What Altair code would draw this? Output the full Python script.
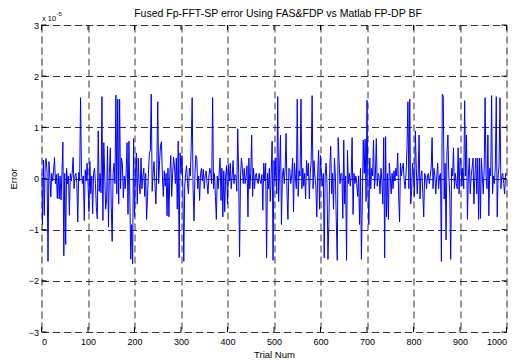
import altair as alt
import pandas as pd

# Error values (units of 1e-5), sampled every 2 trials from 0 to 1000
error_vals = [
    0.1, -0.9, 0.36, -0.72, 0.3, 0.39, 0.1, -1.62, 0.33, 0.05,
    -0.36, 0.1, -0.05, 0.15, 0.41, -0.1, 0.08, -0.39, 0.1, -0.4,
    0.05, -0.42, 0.12, 0.71, -1.51, 0.1, -1.29, 0.2, -0.1, 0.05,
    -0.72, 0.1, -0.05, 0.1, 0.41, -0.2, 0.05, 0.1, -0.1, -0.85,
    0.12, -0.05, 1.58, 0.1, -0.1, 0.05, -0.82, 0.17, -0.05, 0.3,
    -0.1, -0.65, 0.33, -0.3, 0.05, -0.69, 0.1, 0.2, -0.1, -0.57,
    -0.79, 0.93, -0.25, 0.1, -0.28, 1.6, -0.82, 0.7, 0.05, -0.6,
    -0.42, 0.63, -0.95, 0.1, 0.6, -0.55, -1.23, 0.1, 0.3, -0.1,
    1.63, -0.3, 1.55, -0.5, 1.55, -0.2, 0.4, 0.28, -0.38, 0.05,
    -0.2, 0.1, 0.7, -0.7, 0.73, -0.4, -1.58, -0.9, -1.67, 0.78,
    -0.75, 0.1, 0.5, -0.5, 0.4, -0.1, -0.3, 0.4, -0.2, 0.05,
    0.2, -0.35, 0.1, -0.8, -0.35, 0.1, 0.5, 0.55, 1.65, -0.25,
    0.1, 0.33, -0.1, -0.5, 0.22, 1.5, -0.1, 0.35, 0.65, 0.72,
    0.05, -0.35, 0.15, -0.15, 0.1, -0.73, 0.2, -0.75, 0.1, 0.45,
    -0.35, 0.1, 0.42, 0.25, -0.1, 0.4, -0.6, 0.73, -1.55, 0.5,
    0.1, 0.45, -0.2, -1.62, -0.15, 0.1, 0.25, -0.1, -0.3, 0.2,
    0.05, 0.63, 1.58, -0.2, -0.83, 0.1, 0.45, 0.4, -0.2, 0.05,
    -0.43, 0.1, 0.2, -0.05, 0.18, -0.2, 0.05, 0.15, -0.1, -0.3,
    0.05, 0.2, 0.1, -0.1, 1.58, -0.2, 0.1, -0.35, -0.8, 0.05,
    -0.2, 0.1, 0.4, -0.43, 0.2, -0.75, 0.15, -0.65, 0.05, 0.25,
    -0.5, 0.27, -0.05, 0.3, -0.2, 0.05, 0.35, -0.1, 0.08, 0.05,
    -0.25, 0.97, 0.1, -1.53, 0.05, 0.4, 0.2, -0.1, 0.2, -0.1,
    0.05, 0.25, -0.75, 0.4, -0.2, 0.1, 0.85, -0.35, 0.2, -0.2,
    0.05, 0.1, -0.05, -0.1, 0.1, -0.05, -0.1, 0.08, -0.62, 0.3,
    -0.05, 0.3, -1.55, 0.1, -0.2, 0.2, -0.45, 0.1, 0.73, -1.6,
    0.35, -0.05, 0.4, -0.3, 1.6, -0.45, 0.2, 0.85, -0.9, 0.05,
    0.2, -0.1, 0.2, 0.88, -0.3, -0.8, 0.2, 0.18, -0.1, 0.05,
    0.4, -0.65, 0.3, 0.05, -0.2, 1.55, -0.35, 0.15, 0.05, 1.55,
    -0.2, 0.2, -0.15, 0.1, -0.4, 0.35, 0.05, 0.3, -0.4, 0.1,
    0.35, 1.62, -0.2, 0.35, 0.05, -0.15, -0.75, 0.1, 0.55, -0.6,
    0.45, 0.05, -0.15, 0.1, -1.55, 0.05, 0.3, -0.1, -1.58, -0.9,
    0.2, 0.63, -0.3, 0.1, -0.6, 0.4, 0.05, -0.85, -1.6, 0.8,
    0.35, -0.1, 0.1, 0.1, -0.78, 0.75, -0.5, 0.05, -1.6, 0.55,
    -0.1, 0.1, -0.15, 0.05, 0.8, -0.7, 0.1, -0.1, 0.05, -0.1,
    -0.35, 0.05, -0.9, 0.2, -1.58, -0.4, 0.75, 0.1, 0.77, -0.45,
    1.53, -0.2, -0.9, 0.4, -0.2, 0.2, 0.05, 0.75, -0.2, 0.05,
    0.78, -0.15, 0.1, 0.05, -0.3, 0.2, -0.05, -0.5, 0.8, -1.55,
    0.82, -0.75, 0.1, -0.8, 0.3, 0.05, -0.3, 0.1, -0.2, 0.15,
    -0.05, 0.2, 0.05, 0.5, -0.3, -0.85, 0.3, 0.05, 0.2, 0.3,
    -0.05, -0.2, 0.1, 0.6, 1.5, -0.2, 1.55, -0.5, -0.25, 0.3,
    0.05, -0.35, 0.93, 0.2, -0.3, 0.05, 0.85, -0.4, 0.05, 0.15,
    -0.3, -0.75, 0.1, 0.05, -0.2, 0.05, 0.1, -0.1, 0.05, 0.2,
    0.8, -0.2, 0.2, 0.05, -0.3, 0.05, 0.3, -0.2, 0.05, 0.1,
    -1.62, 1.65, 1.6, -0.4, 0.3, -1.2, 0.5, 0.85, 0.05, -0.3,
    -1.58, 0.2, 0.05, 0.6, -0.2, 0.1, -0.1, -0.2, 0.6, -0.3,
    0.4, 0.35, -0.15, 0.2, -0.2, 1.52, 0.05, 0.85, -0.8, 0.05,
    0.4, -0.3, 0.05, 0.2, 0.4, -0.5, 0.05, 0.4, -0.3, 0.4,
    -0.8, 0.4, -0.78, 0.4, 0.05, -0.3, 0.2, 1.58, 0.05, -0.2,
    0.85, -0.73, 0.2, 0.05, 1.62, -0.3, 0.05, -0.1, 0.25, 1.6,
    -0.75, 0.05, 0.25, 1.58, -0.2, 0.05, 0.1, -0.1, -0.3, 0.1,
    0.05,
]
trials = list(range(0, 1001, 2))

x_ticks = [0, 100, 200, 300, 400, 500, 600, 700, 800, 900, 1000]
y_ticks = [-3, -2, -1, 0, 1, 2, 3]
title_text = "Fused Fp-FFT-SP error Using FAS&FDP vs Matlab FP-DP BF"
x_title = "Trial Num"
y_title = "Error"
exp_base = "x 10"
exp_power = "-5"

W, H = 465, 307
FONT = "Liberation Sans"

df = pd.DataFrame({"trial": trials, "err": error_vals})
xt = pd.DataFrame({"v": x_ticks})
yt = pd.DataFrame({"v": y_ticks})

xs = alt.Scale(domain=[0, 1000], nice=False, zero=False)
ys = alt.Scale(domain=[-3, 3], nice=False, zero=False)

grid_kw = dict(grid=True, gridDash=[7, 4], gridColor="#333333", gridWidth=1,
               gridOpacity=1, ticks=False, domain=False,
               labelFont=FONT, labelFontSize=9, labelColor="black",
               titleFont=FONT, titleFontSize=9.5, titleColor="black",
               titleFontWeight="normal")

line = alt.Chart(df).mark_line(color="#0000ff", strokeWidth=1, clip=True).encode(
    x=alt.X("trial:Q", scale=xs,
            axis=alt.Axis(values=x_ticks, format="d", title=x_title,
                          labelPadding=5, titlePadding=3, **grid_kw)),
    y=alt.Y("err:Q", scale=ys,
            axis=alt.Axis(values=y_ticks, format="d", title=y_title,
                          labelPadding=3, titlePadding=10, **grid_kw)),
)

tick_len = 5
bottom_ticks = alt.Chart(xt).mark_rule(color="black").encode(
    x=alt.X("v:Q", scale=xs), y=alt.value(H), y2=alt.value(H - tick_len))
top_ticks = alt.Chart(xt).mark_rule(color="black").encode(
    x=alt.X("v:Q", scale=xs), y=alt.value(0), y2=alt.value(tick_len))
left_ticks = alt.Chart(yt).mark_rule(color="black").encode(
    y=alt.Y("v:Q", scale=ys), x=alt.value(0), x2=alt.value(tick_len))
right_ticks = alt.Chart(yt).mark_rule(color="black").encode(
    y=alt.Y("v:Q", scale=ys), x=alt.value(W - tick_len), x2=alt.value(W))

lab = pd.DataFrame({"a": [0]})
title_mark = alt.Chart(lab).mark_text(font=FONT, fontSize=10.5, align="center",
                                      baseline="alphabetic", color="black").encode(
    x=alt.value(W / 2 + 4), y=alt.value(-8), text=alt.value(title_text))
exp_txt = alt.Chart(lab).mark_text(font=FONT, fontSize=7.5, align="left",
                                   baseline="alphabetic", color="black").encode(
    x=alt.value(0.5), y=alt.value(-4.5), text=alt.value(exp_base))
exp_sup = alt.Chart(lab).mark_text(font=FONT, fontSize=6, align="left",
                                   baseline="alphabetic", color="black").encode(
    x=alt.value(15), y=alt.value(-9.5), text=alt.value(exp_power))

chart = alt.layer(
    line, bottom_ticks, top_ticks, left_ticks, right_ticks,
    title_mark, exp_txt, exp_sup
).properties(
    width=W, height=H,
    autosize=alt.AutoSizeParams(type="none"),
    padding={"left": 33.5, "top": 17, "right": 6, "bottom": 30},
).configure_view(
    stroke="black", strokeWidth=1
).configure(background="white")

chart.save("out.html", embed_options={"renderer": "svg", "actions": False})
